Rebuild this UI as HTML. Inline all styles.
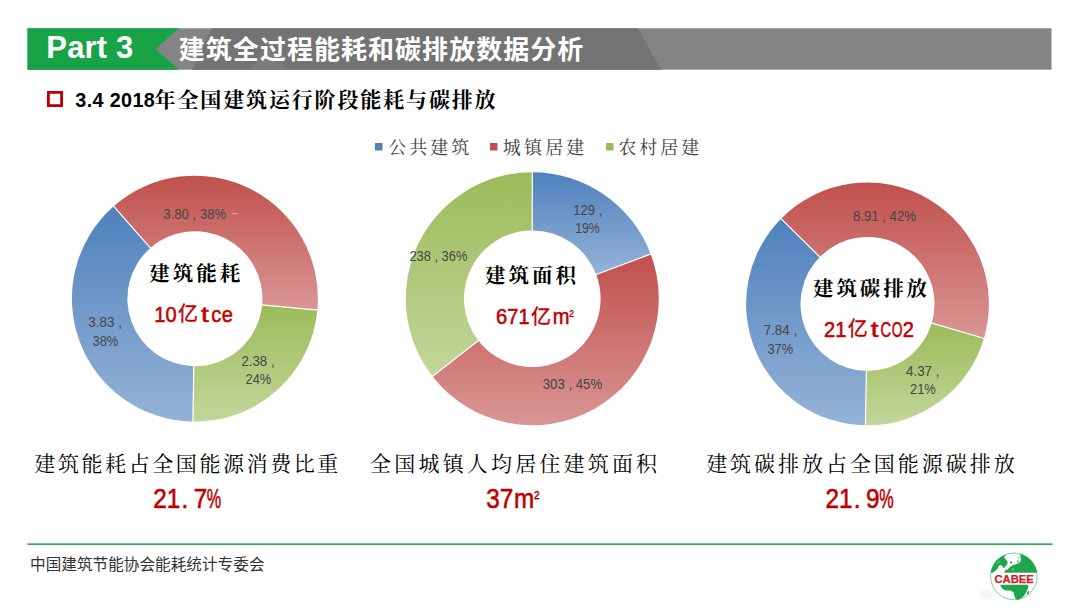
<!DOCTYPE html>
<html lang="zh-CN">
<head>
<meta charset="utf-8">
<title>建筑全过程能耗和碳排放数据分析</title>
<style>
html,body{margin:0;padding:0;background:#fff;}
body{width:1080px;height:608px;overflow:hidden;}
svg{display:block;}
.sans{font-family:"Liberation Sans","Noto Sans CJK SC",sans-serif;}
.kai{font-family:"Liberation Serif","Noto Serif CJK SC",serif;}
.lbl{font-family:"Liberation Sans","Noto Sans CJK SC",sans-serif;font-size:14px;fill:#464646;}
.ctr{font-family:"Liberation Serif","Noto Serif CJK SC",serif;font-weight:700;font-size:20.5px;fill:#000;text-anchor:middle;}
.red text{font-family:"Liberation Sans","Noto Sans CJK SC",sans-serif;font-weight:400;fill:#c00000;stroke:#c00000;stroke-linejoin:round;}
.cap{font-family:"Liberation Serif","Noto Serif CJK SC",serif;font-size:21px;fill:#000;text-anchor:middle;}
.leg{font-family:"Liberation Serif","Noto Serif CJK SC",serif;font-size:18px;fill:#404040;}
</style>
</head>
<body>
<svg width="1080" height="608" viewBox="0 0 1080 608">
<defs>
<linearGradient id="gb" x1="0" y1="0" x2="0" y2="1"><stop offset="0" stop-color="#4f81bd"/><stop offset="1" stop-color="#95b3d7"/></linearGradient>
<linearGradient id="gr" x1="0" y1="0" x2="0" y2="1"><stop offset="0" stop-color="#c0504d"/><stop offset="1" stop-color="#d99694"/></linearGradient>
<linearGradient id="gg" x1="0" y1="0" x2="0" y2="1"><stop offset="0" stop-color="#9bbb59"/><stop offset="1" stop-color="#c3d69b"/></linearGradient>
</defs>
<rect width="1080" height="608" fill="#fff"/>

<!-- header bar -->
<g id="header">
<rect x="27.5" y="28.3" width="1024" height="41.4" fill="#848484"/>
<polygon points="211.5,28.3 638,28.3 661,69.7 192.2,69.7" fill="#737373"/>
<polygon points="250,69.7 287,69.7 268.5,45" fill="#7c7c7c"/>
<polygon points="27.5,28.3 179,28.3 155.5,49 179,69.7 27.5,69.7" fill="#17a346"/>
<text class="sans" x="46.3" y="57.9" font-size="31" font-weight="700" fill="#fff" textLength="87" lengthAdjust="spacing">Part 3</text>
<text class="sans" x="178.8" y="58.6" font-size="26" font-weight="700" fill="#fff" textLength="404.5" lengthAdjust="spacing">建筑全过程能耗和碳排放数据分析</text>
</g>

<!-- subtitle -->
<rect x="48.4" y="92.4" width="13.2" height="13.2" fill="#fff" stroke="#c00000" stroke-width="2.8"/>
<text class="sans" x="75.3" y="107" font-size="19.8" font-weight="700" fill="#000" textLength="79.5" lengthAdjust="spacing">3.4 2018</text>
<text class="kai" x="154.6" y="107.4" font-size="21" font-weight="700" fill="#000" textLength="341" lengthAdjust="spacing">年全国建筑运行阶段能耗与碳排放</text>

<!-- legend -->
<rect x="375" y="143" width="7.5" height="7.5" fill="#4f81bd"/>
<text class="leg" x="388.3" y="153.5" textLength="81" lengthAdjust="spacing">公共建筑</text>
<rect x="490" y="143" width="7.5" height="7.5" fill="#c0504d"/>
<text class="leg" x="502.8" y="153.5" textLength="81.5" lengthAdjust="spacing">城镇居建</text>
<rect x="606" y="143" width="7.5" height="7.5" fill="#9bbb59"/>
<text class="leg" x="618.3" y="153.5" textLength="81" lengthAdjust="spacing">农村居建</text>

<!-- donut 1 -->
<g id="donut1">
<path d="M192.90 421.63A123 123 0 0 1 113.68 206.28L150.33 247.96A67.5 67.5 0 0 0 193.80 366.14Z" fill="url(#gb)"/>
<path d="M113.68 206.28A123 123 0 0 1 317.37 310.09L262.11 304.93A67.5 67.5 0 0 0 150.33 247.96Z" fill="url(#gr)"/>
<path d="M317.37 310.09A123 123 0 0 1 192.90 421.63L193.80 366.14A67.5 67.5 0 0 0 262.11 304.93Z" fill="url(#gg)"/>
<line x1="193.81" y1="365.64" x2="192.90" y2="422.13" stroke="#fff" stroke-width="1.2"/>
<line x1="150.66" y1="248.34" x2="113.34" y2="205.91" stroke="#fff" stroke-width="1.2"/>
<line x1="261.61" y1="304.88" x2="317.86" y2="310.13" stroke="#fff" stroke-width="1.2"/>
<text class="lbl" x="163.3" y="218.6" textLength="63.0" lengthAdjust="spacingAndGlyphs">3.80 , 38%</text>
<text class="lbl" x="88.3" y="327.4" textLength="33.6" lengthAdjust="spacingAndGlyphs">3.83 ,</text>
<text class="lbl" x="92.5" y="345.9" textLength="25.8" lengthAdjust="spacingAndGlyphs">38%</text>
<text class="lbl" x="241.4" y="365.7" textLength="33.2" lengthAdjust="spacingAndGlyphs">2.38 ,</text>
<text class="lbl" x="245.5" y="384.2" textLength="25.7" lengthAdjust="spacingAndGlyphs">24%</text>
<line x1="232" y1="213.7" x2="237.5" y2="213.7" stroke="#d9b3b3" stroke-width="1"/>
<text class="ctr" x="194.8" y="281" textLength="91" lengthAdjust="spacing">建筑能耗</text>
<g class="red">
<text transform="scale(0.9 1)" x="171.50 184.00" y="322.00" font-size="22.3" stroke-width="0.55">10</text>
<text x="178.05" y="321.40" font-size="20" stroke-width="0.39">亿</text>
<text transform="scale(1.25 1)" x="160.84" y="322.00" font-size="22.3" stroke-width="0.55">t</text>
<text transform="scale(0.9 1)" x="234.62 246.50" y="322.00" font-size="22.3" stroke-width="0.55">ce</text>
</g>
</g>

<!-- donut 2 -->
<g id="donut2">
<path d="M532.30 172.20A126.5 126.5 0 0 1 650.64 254.01L596.20 274.57A68.3 68.3 0 0 0 532.30 230.40Z" fill="url(#gb)"/>
<path d="M650.64 254.01A126.5 126.5 0 0 1 432.45 376.37L478.39 340.64A68.3 68.3 0 0 0 596.20 274.57Z" fill="url(#gr)"/>
<path d="M432.45 376.37A126.5 126.5 0 0 1 532.30 172.20L532.30 230.40A68.3 68.3 0 0 0 478.39 340.64Z" fill="url(#gg)"/>
<line x1="532.30" y1="230.90" x2="532.30" y2="171.70" stroke="#fff" stroke-width="1.2"/>
<line x1="595.73" y1="274.75" x2="651.11" y2="253.84" stroke="#fff" stroke-width="1.2"/>
<line x1="478.79" y1="340.33" x2="432.06" y2="376.68" stroke="#fff" stroke-width="1.2"/>
<text class="lbl" x="573.2" y="214.9" textLength="29.1" lengthAdjust="spacingAndGlyphs">129 ,</text>
<text class="lbl" x="575.2" y="232.8" textLength="24.6" lengthAdjust="spacingAndGlyphs">19%</text>
<text class="lbl" x="409.4" y="261.3" textLength="58.0" lengthAdjust="spacingAndGlyphs">238 , 36%</text>
<text class="lbl" x="542.7" y="388.9" textLength="59.5" lengthAdjust="spacingAndGlyphs">303 , 45%</text>
<text class="ctr" x="530.6" y="283" textLength="91" lengthAdjust="spacing">建筑面积</text>
<g class="red">
<text transform="scale(0.9 1)" x="551.16 563.66 576.16" y="324.20" font-size="22.3" stroke-width="0.55">671</text>
<text x="531.00" y="323.60" font-size="20" stroke-width="0.39">亿</text>
<text transform="scale(0.9 1)" x="614.28" y="324.20" font-size="22.3" stroke-width="0.55">m</text>
<text transform="scale(0.85 1)" x="669.71" y="320.85" font-size="16.1" stroke-width="0.28">²</text>
</g>
</g>

<!-- donut 3 -->
<g id="donut3">
<path d="M865.44 425.33A121.4 121.4 0 0 1 781.07 218.70L819.80 256.90A67.0 67.0 0 0 0 866.37 370.94Z" fill="url(#gb)"/>
<path d="M781.07 218.70A121.4 121.4 0 0 1 983.91 338.39L931.75 322.96A67.0 67.0 0 0 0 819.80 256.90Z" fill="url(#gr)"/>
<path d="M983.91 338.39A121.4 121.4 0 0 1 865.44 425.33L866.37 370.94A67.0 67.0 0 0 0 931.75 322.96Z" fill="url(#gg)"/>
<line x1="866.37" y1="370.44" x2="865.44" y2="425.83" stroke="#fff" stroke-width="1.2"/>
<line x1="820.16" y1="257.25" x2="780.71" y2="218.35" stroke="#fff" stroke-width="1.2"/>
<line x1="931.27" y1="322.82" x2="984.39" y2="338.53" stroke="#fff" stroke-width="1.2"/>
<text class="lbl" x="852.9" y="221.2" textLength="63.1" lengthAdjust="spacingAndGlyphs">8.91 , 42%</text>
<text class="lbl" x="763.7" y="335.1" textLength="33.4" lengthAdjust="spacingAndGlyphs">7.84 ,</text>
<text class="lbl" x="767.5" y="353.6" textLength="25.6" lengthAdjust="spacingAndGlyphs">37%</text>
<text class="lbl" x="906.0" y="375.9" textLength="33.5" lengthAdjust="spacingAndGlyphs">4.37 ,</text>
<text class="lbl" x="910.0" y="394.0" textLength="25.8" lengthAdjust="spacingAndGlyphs">21%</text>
<text class="ctr" x="870" y="296" textLength="114" lengthAdjust="spacing">建筑碳排放</text>
<g class="red">
<text transform="scale(0.9 1)" x="915.61 928.11" y="336.80" font-size="22.3" stroke-width="0.55">21</text>
<text x="847.75" y="336.20" font-size="20" stroke-width="0.39">亿</text>
<text transform="scale(1.25 1)" x="696.60" y="336.80" font-size="22.3" stroke-width="0.55">t</text>
<text transform="scale(0.66 1)" x="1334.18" y="336.80" font-size="22.3" stroke-width="0.55">C</text>
<text transform="scale(0.62 1)" x="1438.30" y="336.80" font-size="22.3" stroke-width="0.55">O</text>
<text transform="scale(0.9 1)" x="1003.11" y="336.80" font-size="22.3" stroke-width="0.55">2</text>
</g>
</g>

<!-- captions -->
<text class="cap" x="186.3" y="470.5" textLength="304" lengthAdjust="spacing">建筑能耗占全国能源消费比重</text>
<g class="red">
<text transform="scale(0.9 1)" x="170.33 185.33 201.64 215.33" y="507.80" font-size="27" stroke-width="0.60">21.7</text>
<text transform="scale(0.6 1)" x="344.75" y="507.80" font-size="27" stroke-width="0.60">%</text>
</g>
<text class="cap" x="513.6" y="470.5" textLength="287" lengthAdjust="spacing">全国城镇人均居住建筑面积</text>
<g class="red">
<text transform="scale(0.9 1)" x="540.33 555.33" y="507.80" font-size="27" stroke-width="0.60">37</text>
<text transform="scale(0.9 1)" x="571.14" y="507.80" font-size="27" stroke-width="0.60">m</text>
<text transform="scale(0.85 1)" x="628.10" y="503.75" font-size="19.4" stroke-width="0.30">²</text>
</g>
<text class="cap" x="860.4" y="470.5" textLength="308.5" lengthAdjust="spacing">建筑碳排放占全国能源碳排放</text>
<g class="red">
<text transform="scale(0.9 1)" x="917.33 932.33 948.64 962.33" y="507.80" font-size="27" stroke-width="0.60">21.9</text>
<text transform="scale(0.6 1)" x="1465.25" y="507.80" font-size="27" stroke-width="0.60">%</text>
</g>

<!-- footer -->
<rect x="27.5" y="543.3" width="1025" height="1.7" fill="#2fae55"/>
<text class="sans" x="30" y="570.3" font-size="15.6" fill="#333" textLength="234.5" lengthAdjust="spacing">中国建筑节能协会能耗统计专委会</text>

<!-- logo -->
<g id="logo">
<clipPath id="gc"><circle cx="1013.9" cy="576.45" r="23.6"/></clipPath>
<filter id="bl" x="-50%" y="-50%" width="200%" height="200%"><feGaussianBlur stdDeviation="1.6"/></filter>
<ellipse cx="987" cy="594" rx="7.5" ry="5.5" fill="#f6f6f6" filter="url(#bl)"/>
<circle cx="1013.9" cy="576.45" r="23.25" fill="#fff" stroke="#4cbb70" stroke-width="0.7"/>
<rect x="985" y="550" width="60" height="22.7" fill="#1ea64a" clip-path="url(#gc)"/>
<path d="M1004.6 556.3L1007.3 554.1L1013 553.3L1018.8 553.5L1020.7 555.3L1020.3 557.7L1021.2 559.6L1019.8 562.5L1016.9 564L1013 564.9L1010.6 566.4L1008.7 568.3L1007.3 570.2L1004.4 571.2L1004.6 573L992.8 573L995.2 570.7L998.1 568.3L998.4 565.9L1000.5 564.9L1002.4 566.4L1004.9 566.9L1006.3 565.4L1007.7 563L1007.3 561.1L1005.3 559.1L1004.4 557.7Z" fill="#fff"/>
<circle cx="1011.1" cy="562.3" r="1.1" fill="#1ea64a"/><ellipse cx="1017.9" cy="561.6" rx="0.7" ry="1.4" fill="#1ea64a"/><circle cx="1003.9" cy="567.1" r="0.9" fill="#1ea64a"/><circle cx="1006.4" cy="570.8" r="1.2" fill="#1ea64a"/>
<circle cx="1013" cy="569.3" r="0.7" fill="#fff" opacity="0.8"/><circle cx="999.6" cy="561.6" r="0.9" fill="#fff" opacity="0.45"/><circle cx="997.6" cy="563" r="0.7" fill="#fff" opacity="0.4"/><circle cx="1018.6" cy="557.8" r="0.8" fill="#1ea64a" opacity="0.6"/>
<path d="M1000.2 584.7L1028.4 584.7L1027.9 588.4L1026.4 591.9L1023.9 595.9L1021 598.3L1018 600.1L1015.5 598.8L1014.4 595.9L1013.6 592.4L1010.6 590.6L1005.7 590.4L1002.5 588.9L1000.9 586.5Z" fill="#1ea64a"/>
<ellipse cx="1028.1" cy="592.6" rx="0.8" ry="2.1" transform="rotate(25 1028.1 592.6)" fill="#1ea64a"/>
<text x="1014.1" y="582.8" font-family="'Liberation Sans',sans-serif" font-weight="700" font-size="11" fill="#d0202e" stroke="#d0202e" stroke-width="0.25" text-anchor="middle" textLength="39.4" lengthAdjust="spacingAndGlyphs">CABEE</text>
</g>
</svg>
</body>
</html>
